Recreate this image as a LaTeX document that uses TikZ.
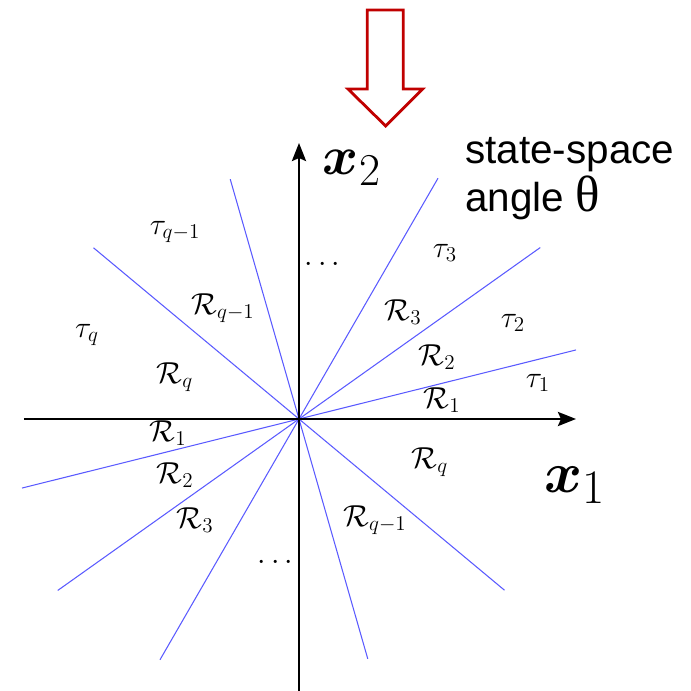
\documentclass[tikz,border=0pt]{standalone}
\usepackage{amsmath}
\usepackage{amssymb}
\usepackage{fontspec}
\usepackage{tikz}
\usetikzlibrary{arrows.meta}
\newfontfamily\notefont{Liberation Sans}
\newfontfamily\notemath{Liberation Serif}
\definecolor{cuered}{RGB}{192,0,0}
\definecolor{rayblue}{RGB}{90,90,255}

\begin{document}
\begin{tikzpicture}[
            axis/.style={line width=1.6pt, -{Stealth[length=0.36cm, width=0.28cm, inset=0.06cm]}},
            ray/.style={draw=rayblue, line width=0.6pt},
            lbl/.style={inner sep=0pt, font=\fontsize{17}{21}\selectfont},
            axlbl/.style={inner sep=0pt, font=\fontsize{24.88}{30}\selectfont, transform shape}
        ]
    \useasboundingbox (-5.98,-5.44) rectangle (7.84,8.38);

    \coordinate (o) at (0,0);

    % sector boundaries
    \foreach \ang/\len in {14/5.71, 35.4/5.92, 60/5.56, 106/4.99, 140.2/5.35}
        \draw[ray] (\ang:\len) -- (\ang+180:\len);

    \draw[axis] (-5.5,0) -- (5.54,0) coordinate (xend);
    \draw[axis] (0,-5.44) -- (0,5.52) coordinate (yend);

    \node[axlbl, scale=1.32] (x1) at (5.52,-1.32) {$\boldsymbol{x}_1$};
    \node[axlbl, scale=1.25] (x2) at (1.06,5.02)  {$\boldsymbol{x}_2$};

    \node[lbl] (t1)  at (4.78,0.72)   {$\tau_1$};
    \node[lbl] (t2)  at (4.28,1.92)   {$\tau_2$};
    \node[lbl] (t3)  at (2.92,3.32)   {$\tau_3$};
    \node[lbl] (tq1) at (-2.48,3.74)  {$\tau_{q-1}$};
    \node[lbl] (tq)  at (-4.24,1.68)  {$\tau_q$};

    \node[lbl] (r1)  at (2.86,0.38)   {$\mathcal{R}_1$};
    \node[lbl] (r2)  at (2.76,1.24)   {$\mathcal{R}_2$};
    \node[lbl] (r3)  at (2.08,2.14)   {$\mathcal{R}_3$};
    \node[lbl] (rq1) at (-1.52,2.22)  {$\mathcal{R}_{q-1}$};
    \node[lbl] (rq)  at (-2.48,0.84)  {$\mathcal{R}_q$};
    \node[lbl] (s1)  at (-2.62,-0.28) {$\mathcal{R}_1$};
    \node[lbl] (s2)  at (-2.48,-1.12) {$\mathcal{R}_2$};
    \node[lbl] (s3)  at (-2.08,-2.02) {$\mathcal{R}_3$};
    \node[lbl] (sq)  at (2.62,-0.86)  {$\mathcal{R}_q$};
    \node[lbl] (sq1) at (1.52,-2.02)  {$\mathcal{R}_{q-1}$};

    \node[lbl] (dup) at (0.52,3.08)   {$\cdots$};
    \node[lbl] (ddn) at (-0.42,-2.88) {$\cdots$};

    \node[inner sep=0pt, anchor=base west, align=left,
          font=\notefont\fontsize{23}{27.5}\selectfont] (note) at (3.32,4.14)
        {state-space\\angle {\notemath\fontsize{29}{30}\selectfont θ}};

    % input cue
    \draw[cuered, line width=1.6pt, fill=white, line join=miter]
        (1.366,8.18) -- (2.086,8.18) -- (2.086,6.6) -- (2.474,6.6)
        -- (1.734,5.86) -- (0.98,6.6) -- (1.366,6.6) -- cycle;

        \end{tikzpicture}
\end{document}
